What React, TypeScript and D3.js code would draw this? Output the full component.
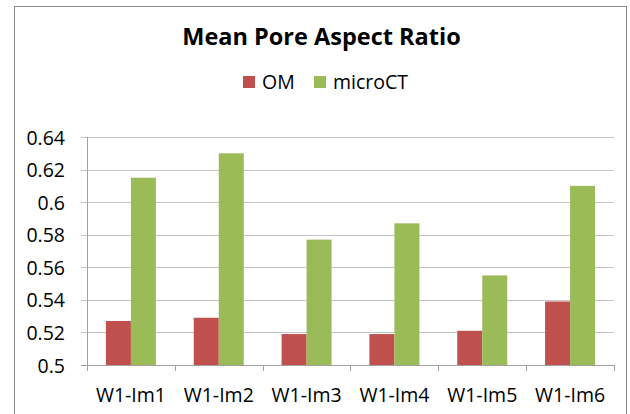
import React from "react";
import * as d3 from "d3";

const categories = ["W1-Im1", "W1-Im2", "W1-Im3", "W1-Im4", "W1-Im5", "W1-Im6"];
const omValues = [0.527, 0.529, 0.519, 0.519, 0.521, 0.539];
const microCTValues = [0.615, 0.63, 0.577, 0.587, 0.555, 0.61];
const seriesNames = ["OM", "microCT"];
const seriesColors = ["#C0504D", "#9BBB59"];
const yTicks = [0.5, 0.52, 0.54, 0.56, 0.58, 0.6, 0.62, 0.64];
const titleText = "Mean Pore Aspect Ratio";

const W = 630;
const H = 414;
const FONT = "'Open Sans', 'Liberation Sans', sans-serif";

export default function App() {
  const left = 87, right = 614, top = 137, bottom = 365;
  const x = d3.scaleBand<string>().domain(categories).range([left, right]).paddingInner(0).paddingOuter(0);
  const y = d3.scaleLinear().domain([0.5, 0.64]).range([bottom, top]);
  const inner = d3.scaleBand<string>().domain(seriesNames).range([0, 50]);
  const series = [omValues, microCTValues];
  const bw = x.bandwidth();
  const legendX = [243, 314];

  return (
    <svg width={W} height={H} style={{ position: "absolute", left: 0, top: 0, display: "block" }}>
      <rect x={0} y={0} width={W} height={H} fill="#fff" />
      <rect x={14.5} y={6.5} width={612} height={420} fill="#fff" stroke="#8a8a8a" strokeWidth={1} />
      <text x={321.5} y={45} textAnchor="middle" fontFamily={FONT} fontWeight="bold" fontSize={23.5} fill="#000">
        {titleText}
      </text>
      {/* legend */}
      {seriesNames.map((n, i) => (
        <g key={n}>
          <rect x={legendX[i]} y={76} width={12} height={12} fill={seriesColors[i]} />
          <text x={legendX[i] + 19} y={89} fontFamily={FONT} fontSize={19.5} fill="#000">{n}</text>
        </g>
      ))}
      {/* gridlines & y ticks */}
      {yTicks.map((t) => (
        <g key={t}>
          <line x1={left - 6} x2={right} y1={Math.round(y(t)) + 0.5} y2={Math.round(y(t)) + 0.5}
            stroke={t === 0.5 ? "#a0a0a0" : "#c4c4c4"} strokeWidth={1} />
          <text x={65} y={y(t) + 7.5} textAnchor="end" fontFamily={FONT} fontSize={19.5} fill="#000">
            {d3.format("")(t)}
          </text>
        </g>
      ))}
      <line x1={left + 0.5} x2={left + 0.5} y1={top} y2={bottom + 6} stroke="#a0a0a0" />
      {/* x ticks */}
      {categories.map((c) => (
        <line key={c} x1={Math.round(x(c)! + bw) + 0.5} x2={Math.round(x(c)! + bw) + 0.5}
          y1={bottom} y2={bottom + 6} stroke="#a0a0a0" />
      ))}
      {/* bars */}
      {categories.map((c, i) => (
        <g key={c}>
          {series.map((vals, s) => {
            const bx = x(c)! + (bw - 50) / 2 + inner(seriesNames[s])!;
            return (
              <rect key={s} x={bx} y={y(vals[i])} width={inner.bandwidth()} height={bottom - y(vals[i])}
                fill={seriesColors[s]} />
            );
          })}
          <text x={x(c)! + bw / 2} y={402} textAnchor="middle" fontFamily={FONT} fontSize={19.5} fill="#000">
            {c}
          </text>
        </g>
      ))}
    </svg>
  );
}
